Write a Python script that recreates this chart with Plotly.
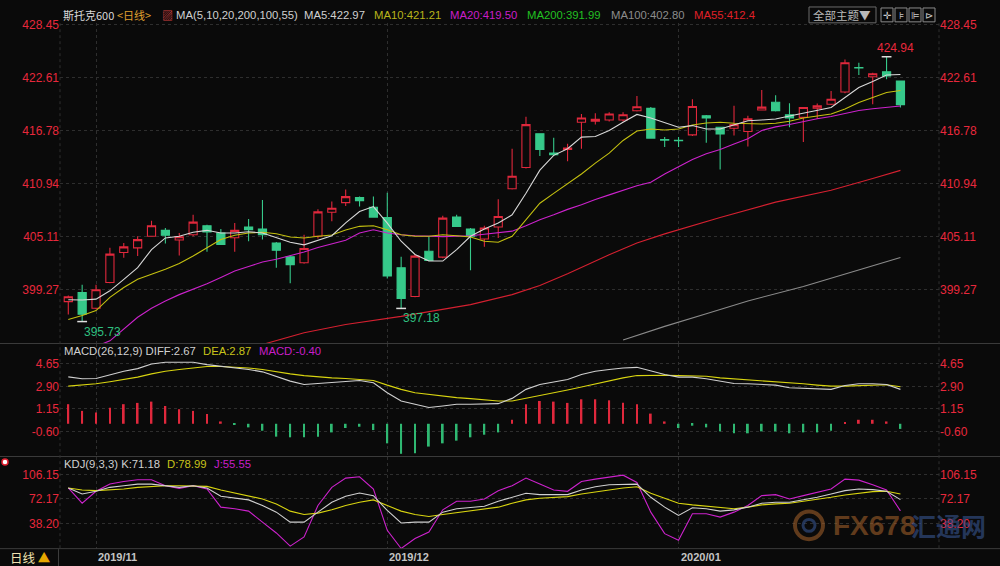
import plotly.graph_objects as go

# ---------------- data ----------------
idx = list(range(61))
month_idx = [2, 23, 44]
month_labels = ["2019/11", "2019/12", "2020/01"]

opens = [397.93, 398.94, 397.19, 400.03, 403.35, 403.86, 405.13, 405.79, 404.73, 405.31,
         406.29, 405.5, 404.98, 406.15, 405.93, 404.4, 402.87, 402.21, 405.13, 407.79,
         408.85, 409.4, 408.34, 407.21, 401.67, 398.5, 403.49, 402.84, 407.25, 405.93,
         404.84, 406.15, 410.38, 412.71, 416.43, 414.32, 414.71, 417.71, 417.81, 417.96,
         417.96, 418.97, 419.24, 415.8, 415.73, 416.32, 418.43, 417.16, 417.05, 416.68,
         419.05, 419.92, 418.54, 418.25, 419.27, 419.7, 421.05, 423.75, 422.73, 423.28,
         422.25]
highs = [398.6, 399.78, 399.78, 403.86, 404.4, 405.13, 406.84, 406.04, 405.5, 407.5,
         406.4, 405.93, 406.59, 407.03, 409.14, 404.5, 403.02, 405.31, 408.12, 408.96,
         410.3, 409.51, 409.51, 409.94, 402.87, 403.13, 405.13, 407.39, 407.5, 406.04,
         406.29, 409.21, 414.79, 418.32, 416.5, 416.0, 415.33, 418.61, 418.69, 418.8,
         418.8, 420.61, 419.4, 416.07, 416.07, 420.25, 418.5, 417.2, 419.52, 418.43,
         421.27, 420.69, 419.81, 419.4, 419.78, 421.16, 424.62, 424.26, 423.17, 424.94,
         422.3]
lows = [396.5, 395.73, 397.1, 399.95, 402.76, 402.95, 405.1, 404.33, 403.02, 405.13,
        403.42, 404.2, 403.42, 404.59, 404.77, 401.67, 399.95, 402.1, 404.9, 406.78,
        408.48, 408.41, 407.2, 400.47, 397.18, 398.4, 402.4, 402.7, 406.2, 401.38,
        403.97, 404.95, 410.3, 412.6, 413.99, 414.0, 413.4, 414.79, 417.45, 417.8,
        417.8, 418.9, 415.9, 414.97, 414.97, 416.2, 415.44, 412.49, 416.24, 415.04,
        419.0, 418.9, 417.16, 415.52, 418.07, 419.6, 420.9, 422.91, 419.7, 422.44,
        419.34]
closes = [398.47, 396.53, 399.23, 403.17, 403.97, 404.77, 406.29, 405.25, 405.09, 406.7,
          405.6, 404.22, 405.79, 405.86, 405.31, 403.6, 402.0, 403.78, 407.83, 408.23,
          409.51, 409.07, 407.25, 400.76, 398.28, 402.95, 402.47, 407.14, 406.23, 405.13,
          406.04, 407.32, 411.76, 417.45, 414.71, 414.13, 414.86, 418.18, 418.03, 418.61,
          418.54, 419.41, 415.96, 415.74, 415.67, 419.45, 418.18, 416.43, 417.45, 418.1,
          419.38, 418.97, 418.18, 419.34, 419.52, 420.25, 424.26, 423.7, 423.06, 422.8,
          419.63]

ma5 = [398.14, 398.1, 398.2, 399.12, 400.39, 401.67, 403.67, 404.95, 405.13, 405.57,
       405.79, 405.5, 405.5, 405.64, 405.5, 404.95, 404.48, 404.19, 404.7, 405.2,
       406.62, 407.87, 408.41, 406.59, 404.59, 403.13, 402.4, 402.4, 403.67, 405.13,
       405.93, 406.59, 407.5, 409.87, 412.42, 414.06, 414.79, 416.07, 416.13, 416.79,
       417.71, 418.57, 418.18, 417.63, 417.16, 417.34, 416.97, 416.97, 417.41, 417.88,
       417.96, 418.07, 418.39, 418.69, 419.05, 419.34, 420.44, 421.53, 422.19, 422.91,
       422.97]
ma10 = [395.95, 396.39, 396.94, 398.4, 399.49, 400.39, 400.94, 401.49, 402.14, 402.95,
        403.86, 404.77, 405.24, 405.5, 405.57, 405.42, 405.06, 404.95, 405.13, 405.28,
        405.82, 406.23, 406.29, 405.86, 405.31, 405.13, 405.13, 405.31, 405.2, 405.06,
        404.59, 404.48, 405.13, 406.95, 408.78, 409.87, 410.96, 412.0, 413.2, 414.3,
        415.7, 416.75, 416.97, 416.86, 416.97, 417.41, 417.63, 417.71, 417.6, 417.52,
        417.52, 417.6, 417.81, 418.18, 418.43, 418.61, 419.16, 419.89, 420.44, 420.98,
        421.21]
ma20 = [391.5, 392.3, 393.0, 393.6, 394.9, 396.2, 397.2, 398.0, 398.7, 399.3,
        399.9, 400.6, 401.3, 401.8, 402.3, 402.6, 403.0, 403.4, 403.9, 404.3,
        404.7, 405.5, 405.86, 405.5, 405.3, 405.2, 405.15, 405.1, 405.15, 405.2,
        405.35, 405.55, 405.7, 406.3, 406.95, 407.5, 408.1, 408.6, 409.2, 409.7,
        410.2, 410.7, 411.1, 412.0, 412.8, 413.6, 414.24, 414.7, 415.3, 415.9,
        416.8, 417.2, 417.45, 417.8, 418.1, 418.35, 418.7, 419.0, 419.2, 419.35,
        419.5]
ma55_idx = [14, 17, 20, 24, 29, 32, 34, 36, 39, 41, 43, 47, 51, 55, 58, 60]
ma55 = [393.2, 394.5, 395.4, 396.3, 397.6, 398.7, 399.7, 401.0, 403.1, 404.4,
        405.4, 407.2, 408.9, 410.2, 411.5, 412.4]
ma100_idx = [40, 43, 46, 49, 53, 56, 60]
ma100 = [393.7, 395.2, 396.6, 398.0, 399.6, 401.0, 402.8]

macd_hist = [1.52, 1.0, 0.87, 1.25, 1.52, 1.62, 1.72, 1.38, 1.13, 1.0,
             0.75, 0.18, -0.03, -0.28, -0.54, -1.0, -1.05, -1.05, -1.0, -0.67,
             -0.33, -0.23, -0.49, -1.52, -2.33, -2.28, -1.77, -1.52, -1.31, -1.05,
             -0.85, -0.67, 0.31, 1.52, 1.77, 1.72, 1.62, 1.9, 1.9, 1.82,
             1.64, 1.52, 0.79, 0.18, -0.33, -0.15, -0.28, -0.59, -0.74, -0.74,
             -0.59, -0.59, -0.74, -0.67, -0.67, -0.54, 0.1, 0.31, 0.31, 0.18,
             -0.40]
diff = [3.64, 3.49, 3.51, 3.82, 4.08, 4.28, 4.64, 4.77, 4.77, 4.77,
        4.59, 4.46, 4.38, 4.21, 4.03, 3.69, 3.31, 3.05, 3.13, 3.23,
        3.31, 3.36, 3.18, 2.41, 1.77, 1.52, 1.26, 1.38, 1.52, 1.52,
        1.52, 1.56, 1.97, 2.67, 3.05, 3.26, 3.44, 3.82, 4.08, 4.21,
        4.33, 4.38, 4.08, 3.82, 3.62, 3.62, 3.49, 3.31, 3.13, 3.1,
        3.05, 3.0, 2.79, 2.74, 2.67, 2.67, 2.97, 3.1, 3.1, 3.05,
        2.67]
dea = [2.92, 3.0, 3.1, 3.26, 3.44, 3.62, 3.87, 4.08, 4.21, 4.33,
       4.44, 4.44, 4.38, 4.33, 4.21, 4.03, 3.87, 3.74, 3.64, 3.56,
       3.51, 3.46, 3.36, 3.0, 2.67, 2.41, 2.28, 2.15, 2.03, 1.95,
       1.85, 1.77, 1.77, 1.97, 2.21, 2.41, 2.62, 2.85, 3.1, 3.36,
       3.56, 3.74, 3.77, 3.77, 3.74, 3.74, 3.69, 3.56, 3.49, 3.38,
       3.31, 3.23, 3.18, 3.1, 3.0, 2.92, 2.92, 2.97, 3.0, 3.03,
       2.87]

kdj_k = [87.3, 79.0, 82.7, 88.2, 90.5, 92.7, 92.7, 90.5, 88.2, 90.5,
         87.3, 75.8, 73.5, 70.8, 63.0, 53.8, 40.0, 40.0, 53.8, 67.5,
         75.8, 80.4, 76.7, 56.1, 38.7, 40.0, 40.0, 53.8, 58.4, 59.7,
         62.0, 68.9, 74.4, 79.9, 78.1, 78.1, 78.1, 84.5, 89.1, 91.8,
         92.7, 92.7, 74.4, 60.7, 49.2, 59.8, 58.4, 55.2, 57.0, 60.7,
         66.2, 67.5, 67.5, 70.8, 74.4, 79.0, 83.6, 85.9, 85.0, 82.7,
         71.18]
kdj_d = [87.3, 84.5, 83.6, 84.5, 85.9, 88.2, 89.5, 90.5, 90.5, 90.5,
         89.5, 84.5, 80.4, 76.7, 72.1, 65.2, 55.2, 50.6, 52.4, 57.0,
         63.0, 67.5, 70.8, 63.0, 55.2, 50.6, 47.8, 50.6, 52.9, 55.2,
         57.5, 60.7, 66.2, 70.8, 73.0, 74.4, 75.3, 79.0, 81.3, 84.5,
         87.3, 89.1, 79.9, 73.0, 66.2, 63.9, 62.0, 60.7, 58.4, 60.7,
         63.9, 65.2, 66.2, 68.9, 71.2, 74.4, 77.6, 79.9, 82.2, 82.7,
         78.99]
kdj_j = [87.3, 66.2, 82.7, 92.8, 96.4, 98.7, 98.7, 90.5, 86.8, 90.5,
         85.9, 60.7, 58.4, 55.2, 40.0, 24.9, 6.6, 19.4, 63.0, 88.2,
         101.0, 102.8, 85.9, 28.6, 3.4, 17.1, 26.3, 57.0, 68.9, 68.9,
         72.1, 83.6, 90.5, 101.0, 92.7, 84.5, 82.7, 96.4, 99.6, 102.8,
         105.1, 95.0, 53.8, 24.0, 14.8, 51.5, 51.5, 46.9, 53.8, 63.0,
         76.7, 78.1, 72.1, 76.7, 81.3, 85.9, 99.6, 98.2, 91.8, 84.5,
         55.55]

price_ticks = [399.27, 405.11, 410.94, 416.78, 422.61, 428.45]
macd_ticks = [-0.60, 1.15, 2.90, 4.65]
kdj_ticks = [38.20, 72.17, 106.15]

# extreme marks: (index, value, label, kind)
extremes = [(1, 395.73, "395.73", "low"), (24, 397.18, "397.18", "low"), (59, 424.94, "424.94", "high")]

# ---------------- styling ----------------
W, H = 1000, 566
BG = "#0a0a0a"
UP = "#e0283c"
DOWN = "#36c98a"
AXIS_RED = "#e8283c"
FONT = "Liberation Sans, Arial, Noto Sans CJK SC, sans-serif"
CJK = "Noto Sans CJK SC, Liberation Sans, sans-serif"
NARROW = "Liberation Sans Narrow, Liberation Sans, sans-serif"
FS = 11.3


def pxx(x):
    return x / W


def pxy(y):
    return 1 - y / H


X_DOM = [pxx(60), pxx(939)]
X_RANGE = [-0.598, 62.78]

fig = go.Figure()

# candles
fig.add_trace(go.Candlestick(
    x=idx, open=opens, high=highs, low=lows, close=closes,
    increasing=dict(line=dict(color=UP, width=1.1), fillcolor=BG),
    decreasing=dict(line=dict(color=DOWN, width=1.1), fillcolor=DOWN),
    whiskerwidth=0, showlegend=False, hoverinfo="skip",
    xaxis="x", yaxis="y"))

# moving averages
fig.add_trace(go.Scatter(x=ma100_idx, y=ma100, mode="lines", line=dict(color="#8a8a8a", width=1.1),
                         showlegend=False, hoverinfo="skip", xaxis="x", yaxis="y"))
fig.add_trace(go.Scatter(x=ma55_idx, y=ma55, mode="lines", line=dict(color="#d42030", width=1.1),
                         showlegend=False, hoverinfo="skip", xaxis="x", yaxis="y"))
fig.add_trace(go.Scatter(x=idx, y=ma20, mode="lines", line=dict(color="#cc22cc", width=1.1),
                         showlegend=False, hoverinfo="skip", xaxis="x", yaxis="y"))
fig.add_trace(go.Scatter(x=idx, y=ma10, mode="lines", line=dict(color="#c4c010", width=1.1),
                         showlegend=False, hoverinfo="skip", xaxis="x", yaxis="y"))
fig.add_trace(go.Scatter(x=idx, y=ma5, mode="lines", line=dict(color="#d8d8d8", width=1.1),
                         showlegend=False, hoverinfo="skip", xaxis="x", yaxis="y"))

# extreme tick marks
fig.add_trace(go.Scatter(x=[e[0] for e in extremes], y=[e[1] for e in extremes], mode="markers",
                         marker=dict(symbol="line-ew", size=7, line=dict(color="#e0e0e0", width=1.5)),
                         showlegend=False, hoverinfo="skip", xaxis="x", yaxis="y"))

# MACD
hist_colors = [UP if v >= 0 else "#2fb872" for v in macd_hist]
fig.add_trace(go.Bar(x=idx, y=macd_hist, width=0.13, marker=dict(color=hist_colors, line=dict(width=0)),
                     showlegend=False, hoverinfo="skip", xaxis="x2", yaxis="y2"))
fig.add_trace(go.Scatter(x=idx, y=dea, mode="lines", line=dict(color="#d8d410", width=1.1),
                         showlegend=False, hoverinfo="skip", xaxis="x2", yaxis="y2"))
fig.add_trace(go.Scatter(x=idx, y=diff, mode="lines", line=dict(color="#d0d0d0", width=1.1),
                         showlegend=False, hoverinfo="skip", xaxis="x2", yaxis="y2"))

# KDJ
fig.add_trace(go.Scatter(x=idx, y=kdj_j, mode="lines", line=dict(color="#cc22cc", width=1.1),
                         showlegend=False, hoverinfo="skip", xaxis="x3", yaxis="y3"))
fig.add_trace(go.Scatter(x=idx, y=kdj_d, mode="lines", line=dict(color="#d8d410", width=1.1),
                         showlegend=False, hoverinfo="skip", xaxis="x3", yaxis="y3"))
fig.add_trace(go.Scatter(x=idx, y=kdj_k, mode="lines", line=dict(color="#d0d0d0", width=1.1),
                         showlegend=False, hoverinfo="skip", xaxis="x3", yaxis="y3"))

# invisible traces to anchor right-side axes
for ya in ["y4", "y5", "y6"]:
    fig.add_trace(go.Scatter(x=[None], y=[None], mode="lines", showlegend=False,
                             hoverinfo="skip", xaxis="x", yaxis=ya))

# ---------------- axes ----------------
P_DOM = [pxy(341), pxy(18)]
P_RANGE = [428.45 - (341 - 20) / 9.15, 428.45 + 2 / 9.15]
M_DOM = [pxy(455), pxy(342)]
M_RANGE = [-(455 - 422.5) / 13.0, (422.5 - 342) / 13.0]
K_DOM = [pxy(549), pxy(456)]
K_RANGE = [72.17 - (549 - 498.3) * 1.375, 72.17 + (498.3 - 456) * 1.375]

xcommon = dict(domain=X_DOM, range=X_RANGE, showticklabels=False, tickvals=month_idx,
               showgrid=True, griddash="dot", gridcolor="#2e2e2e", gridwidth=1,
               zeroline=False, showline=False, ticks="", fixedrange=True)


def ycommon(dom, rng, ticks, fmt, side):
    return dict(domain=dom, range=rng, tickvals=ticks, ticktext=[fmt.format(t) for t in ticks],
                side=side, showgrid=(side == "left"), griddash="dot", gridcolor="#2e2e2e",
                zeroline=False, showline=False, ticks="",
                tickfont=dict(family=FONT, size=12, color=AXIS_RED), fixedrange=True)


layout_axes = dict(
    xaxis=dict(xcommon, anchor="y", rangeslider=dict(visible=False)),
    xaxis2=dict(xcommon, anchor="y2", matches="x"),
    xaxis3=dict(xcommon, anchor="y3", matches="x"),
    yaxis=dict(ycommon(P_DOM, P_RANGE, price_ticks, "{:.2f}", "left"), anchor="x"),
    yaxis2=dict(ycommon(M_DOM, M_RANGE, macd_ticks, "{:.2f}", "left"), anchor="x2"),
    yaxis3=dict(ycommon(K_DOM, K_RANGE, kdj_ticks, "{:.2f}", "left"), anchor="x3"),
    yaxis4=dict(ycommon(P_DOM, P_RANGE, price_ticks, "{:.2f}", "right"), anchor="x", overlaying="y"),
    yaxis5=dict(ycommon(M_DOM, M_RANGE, macd_ticks, "{:.2f}", "right"), anchor="x2", overlaying="y2"),
    yaxis6=dict(ycommon(K_DOM, K_RANGE, kdj_ticks, "{:.2f}", "right"), anchor="x3", overlaying="y3"),
)

# ---------------- shapes ----------------
shapes = []
for yy in [341.5, 455.5, 548.5]:
    shapes.append(dict(type="line", xref="paper", yref="paper", x0=0, x1=1, y0=pxy(yy), y1=pxy(yy),
                       line=dict(color="#3c3c3c", width=1)))
for xx in [60, 939]:
    shapes.append(dict(type="line", xref="paper", yref="paper", x0=pxx(xx), x1=pxx(xx),
                       y0=pxy(548), y1=pxy(18), line=dict(color="#2e2e2e", width=1, dash="dot")))
shapes.append(dict(type="line", xref="paper", yref="paper", x0=pxx(58.5), x1=pxx(58.5),
                   y0=0, y1=pxy(549), line=dict(color="#3c3c3c", width=1)))
# top-right buttons
shapes.append(dict(type="rect", xref="paper", yref="paper", x0=pxx(809), x1=pxx(876),
                   y0=pxy(18), y1=pxy(2), line=dict(color="#6a6a6a", width=1), fillcolor=BG))
for bx in [881, 895, 909, 923]:
    shapes.append(dict(type="rect", xref="paper", yref="paper", x0=pxx(bx), x1=pxx(bx + 12),
                       y0=pxy(17), y1=pxy(3), line=dict(color="#8a8a8a", width=1), fillcolor=BG))
# small indicator icon
shapes.append(dict(type="circle", xref="paper", yref="paper", x0=pxx(2), x1=pxx(8),
                   y0=pxy(464), y1=pxy(458), line=dict(color="#e02030", width=1.5), fillcolor="#ffffff"))
# watermark logo
shapes.append(dict(type="circle", xref="paper", yref="paper", x0=pxx(795), x1=pxx(823),
                   y0=pxy(539), y1=pxy(511), line=dict(color="#a8642c", width=4), opacity=0.55))
shapes.append(dict(type="circle", xref="paper", yref="paper", x0=pxx(803), x1=pxx(815),
                   y0=pxy(531), y1=pxy(519), line=dict(color="#3a5a9a", width=3), opacity=0.55))

# ---------------- annotations ----------------
ann = []


def txt(x, y, s, color, size=FS, family=FONT, anchor="left", bold=False, opacity=1.0):
    ann.append(dict(x=pxx(x), y=pxy(y), xref="paper", yref="paper", text=(f"<b>{s}</b>" if bold else s),
                    showarrow=False, xanchor=anchor, yanchor="middle", opacity=opacity,
                    font=dict(family=family, size=size, color=color)))


# title row
txt(61, 10, "斯托克600", "#d8d8d8", 11, CJK)
txt(115, 10, "&lt;日线&gt;", "#e0a030", 11, CJK)
txt(160, 10, "▨", "#d04040", 11, CJK)
txt(174, 10, "MA(5,10,20,200,100,55)", "#d0d0d0")
txt(302, 10, "MA5:422.97", "#d0d0d0")
txt(372, 10, "MA10:421.21", "#b8b41a")
txt(448, 10, "MA20:419.50", "#c81ec8")
txt(525, 10, "MA200:391.99", "#22c022")
txt(609, 10, "MA100:402.80", "#8c8c8c")
txt(692, 10, "MA55:412.4", "#e02028")
txt(842, 10, "全部主题▼", "#b8b8b8", 11.5, CJK, anchor="center")
for bx, g in zip([881, 895, 909, 923], ["✛", "⊧", "⊫", "⊳"]):
    txt(bx + 6, 10, g, "#cccccc", 10, CJK, anchor="center")

# MACD / KDJ legends
txt(62, 349, "MACD(26,12,9) DIFF:2.67", "#d0d0d0")
txt(201, 349, "DEA:2.87", "#c8c41a")
txt(257, 349, "MACD:-0.40", "#c81ec8")
txt(62, 463, "KDJ(9,3,3) K:71.18", "#d0d0d0")
txt(165, 463, "D:78.99", "#c8c41a")
txt(212, 463, "J:55.55", "#c81ec8")

# bottom strip
txt(8, 557, "日线 <span style='color:#e8a800'>▲</span>", "#f0e2b0", 12.5, CJK)
for mi, ml in zip(month_idx, month_labels):
    ann.append(dict(x=mi, y=pxy(557), xref="x3", yref="paper", text=f"<b>{ml}</b>", showarrow=False,
                    xanchor="left", yanchor="middle", xshift=0,
                    font=dict(family=FONT, size=11, color="#c4c4c4")))

# extreme value labels
for i_, v_, lab, kind in extremes:
    color = "#2fc080" if kind == "low" else AXIS_RED
    ann.append(dict(x=i_, y=v_, xref="x", yref="y", text=lab, showarrow=False,
                    xanchor="left", yanchor="top" if kind == "low" else "bottom",
                    xshift=0 if kind == "low" else -12, yshift=-1 if kind == "low" else 0,
                    font=dict(family=FONT, size=12, color=color)))

# watermark
txt(831, 525, "FX678", "#a8642c", 28, NARROW, bold=True, opacity=0.55)
txt(909, 525, "汇通网", "#3a5a9a", 25, CJK, bold=True, opacity=0.55)

fig.update_layout(
    width=W, height=H, margin=dict(l=0, r=0, t=0, b=0),
    paper_bgcolor=BG, plot_bgcolor=BG, showlegend=False,
    boxgap=0.16, barmode="overlay", hovermode=False,
    shapes=shapes, annotations=ann,
    **layout_axes)

fig.write_html(
    "out.html",
    config={"displayModeBar": False},
    post_script="document.body.style.margin='0';document.body.style.padding='0';"
                "document.body.style.background='#0a0a0a';document.body.style.overflow='hidden';",
)
